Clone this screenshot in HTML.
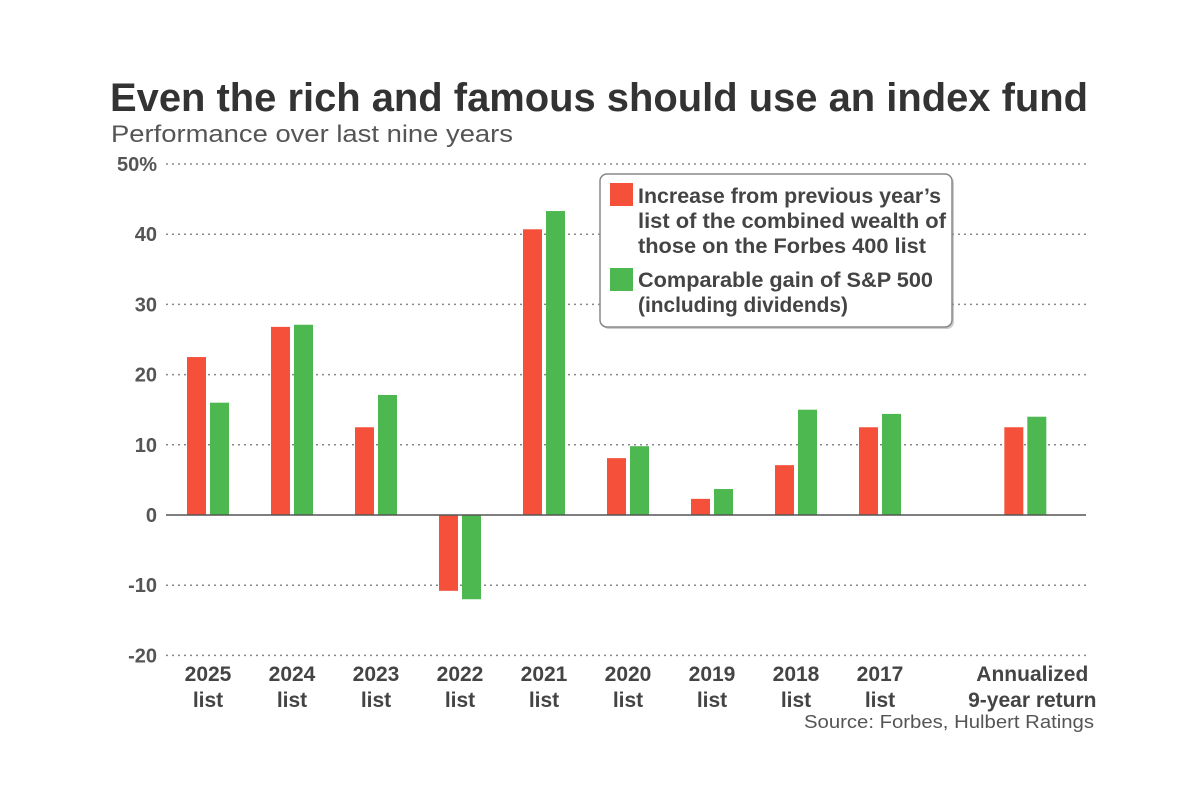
<!DOCTYPE html>
<html><head><meta charset="utf-8"><style>
body{margin:0;background:#fff;}
svg{display:block;font-family:"Liberation Sans",sans-serif;}
</style></head><body>
<svg id="chart" width="1200" height="800">
<text x="110" y="111" font-size="40" font-weight="bold" fill="#333" textLength="978" lengthAdjust="spacingAndGlyphs">Even the rich and famous should use an index fund</text>
<text x="111" y="142" font-size="24" fill="#555" textLength="402" lengthAdjust="spacingAndGlyphs">Performance over last nine years</text>
<g id="grid"></g><g id="bars"></g><g id="xlabels"></g>
<g>
<rect x="602" y="176" width="352" height="153" rx="7" fill="#999" opacity="0.5"/>
<rect x="600" y="174" width="352" height="153" rx="7" fill="#fff" stroke="#888" stroke-width="1.5"/>
<rect x="610" y="183" width="23" height="23" fill="#f5503a"/>
<g font-size="21" fill="#444" font-weight="bold">
<text x="638" y="203"><tspan x="638" textLength="303" lengthAdjust="spacingAndGlyphs">Increase from previous year’s</tspan><tspan x="638" dy="25" textLength="308" lengthAdjust="spacingAndGlyphs">list of the combined wealth of</tspan><tspan x="638" dy="25" textLength="288" lengthAdjust="spacingAndGlyphs">those on the Forbes 400 list</tspan></text>
</g>
<rect x="610" y="268" width="23" height="23" fill="#4cb84f"/>
<g font-size="21" fill="#444" font-weight="bold">
<text x="638" y="287"><tspan x="638" textLength="295" lengthAdjust="spacingAndGlyphs">Comparable gain of S&amp;P 500</tspan><tspan x="638" dy="25" textLength="210" lengthAdjust="spacingAndGlyphs">(including dividends)</tspan></text>
</g>
</g>
<text x="1094" y="728" font-size="18" fill="#555" text-anchor="end" textLength="290" lengthAdjust="spacingAndGlyphs">Source: Forbes, Hulbert Ratings</text>
</svg>
<script>
const categories = ["2025|list","2024|list","2023|list","2022|list","2021|list","2020|list","2019|list","2018|list","2017|list","Annualized|9-year return"];
const forbesValues = [22.5,26.8,12.5,-10.8,40.7,8.1,2.3,7.1,12.5,12.5];
const sp500Values = [16.0,27.1,17.1,-12.0,43.3,9.8,3.7,15.0,14.4,14.0];
const yTicks = [50,40,30,20,10,0,-10,-20];
const yTickLabels = ["50%","40","30","20","10","0","-10","-20"];

const NS="http://www.w3.org/2000/svg";
const y = v => 515 - v*7.02;
const xc = i => 208 + 84*(i<9 ? i : 9.73);
function mk(tag, attrs, parent){const e=document.createElementNS(NS,tag);for(const k in attrs)e.setAttribute(k,attrs[k]);parent.appendChild(e);return e;}
const grid=document.getElementById('grid'), bars=document.getElementById('bars'), xl=document.getElementById('xlabels');
yTicks.forEach((t,i)=>{
  if(t!==0 && t!==-20 || t===-20){
    if(t!==0){
      const l=mk('line',{x1:166,x2:1086,y1:y(t),y2:y(t),stroke:'#888','stroke-width':1.5,'stroke-dasharray':'2 4'},grid);
      
      
    }
  }
  const tx=mk('text',{x:157,y:y(t)+7,'font-size':20,'font-weight':'bold',fill:'#555','text-anchor':'end'},grid);
  tx.textContent=yTickLabels[i];
  
  
});
categories.forEach((c,i)=>{
  const cx=xc(i);
  [[forbesValues[i],'#f5503a',-21,'bar-forbes'],[sp500Values[i],'#4cb84f',2,'bar-sp500']].forEach(([v,col,off,nm])=>{
    const r=mk('rect',{x:cx+off,y:Math.min(y(v),y(0)),width:19,height:Math.abs(y(v)-y(0)),fill:col},bars);
    
    
  });
  const parts=c.split('|');
  const t=mk('text',{x:cx+(i===9?7:0),y:681,'font-size':21,'font-weight':'bold',fill:'#444','text-anchor':'middle'},xl);
  
  
  parts.forEach((p,j)=>{const s=mk('tspan',{x:cx+(i===9?7:0),dy:j?26:0},t);s.textContent=p;});
});
const ax=mk('line',{x1:166,x2:1086,y1:y(0),y2:y(0),stroke:'#555','stroke-width':1.5},bars);


</script>
</body></html>
